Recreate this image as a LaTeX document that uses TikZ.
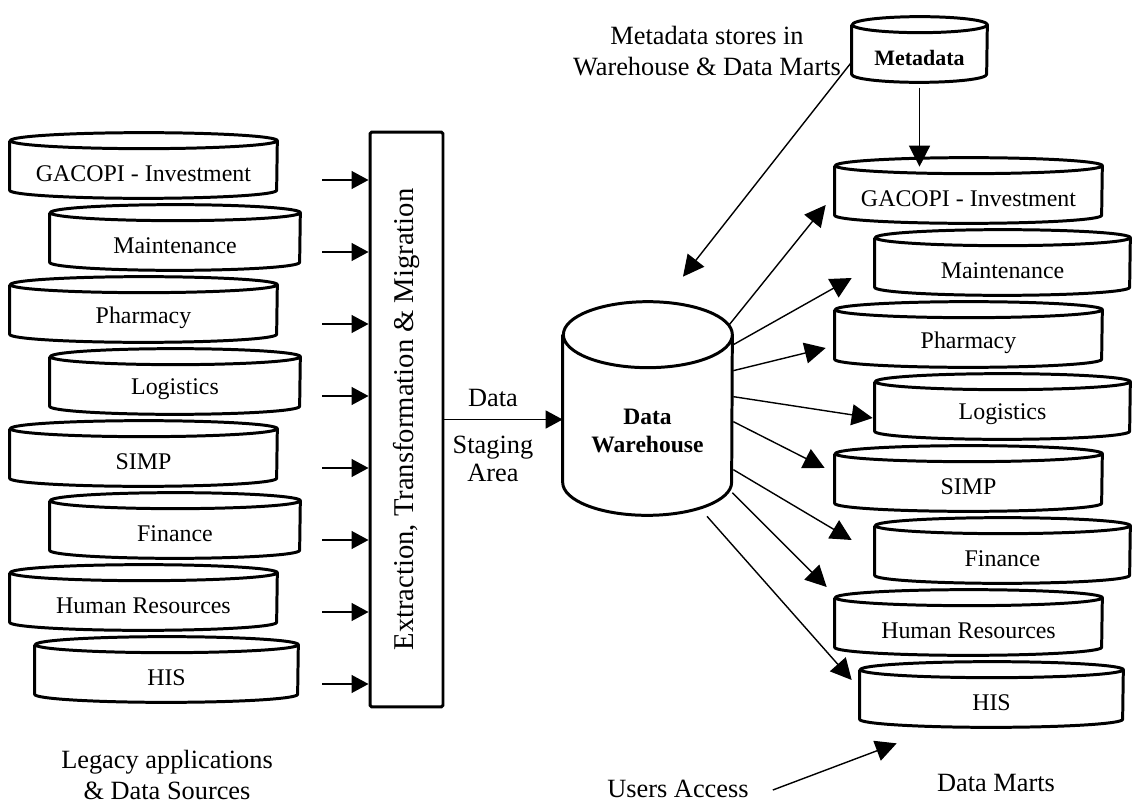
\documentclass[tikz,border=0pt]{standalone}
\usepackage{fontspec}
\setmainfont{Liberation Serif}
\usetikzlibrary{arrows.meta}

\tikzset{
  disk/.style={draw=none,inner sep=0pt,minimum height=0.98cm,font=\fontsize{13.6}{16}\selectfont},
  diskline/.style={line width=1.7pt,line join=round},
  feed/.style={line width=0.8pt,-{Triangle[length=0.34cm,width=0.36cm]}},
  flow/.style={line width=0.8pt,-{Triangle[length=0.42cm,width=0.42cm]}},
  caption/.style={align=center,font=\fontsize{15}{17.5}\selectfont}
}

% name, x, y, width (cm), label
\newcommand{\dbdisk}[5]{%
  \node[disk,minimum width=#4cm] (#1) at (#2,#3) {#5};
  \draw[diskline] ([yshift=0.16cm]#1.north west) -- ([yshift=0.16cm]#1.south west)
    arc[start angle=180,end angle=360,x radius=#4*0.5cm,y radius=0.16cm]
    -- ([yshift=0.16cm]#1.north east)
    arc[start angle=0,end angle=360,x radius=#4*0.5cm,y radius=0.16cm];
}

\begin{document}
\begin{tikzpicture}[x=0.02cm,y=0.02cm]
\useasboundingbox (0,0) rectangle (1132,-804);
% sources
\dbdisk{gacopi}{143.5}{-173.5}{5.34}{GACOPI - Investment}
\dbdisk{maint}{175}{-245.5}{5.0}{Maintenance}
\dbdisk{pharm}{143.5}{-317.5}{5.34}{Pharmacy}
\dbdisk{logis}{175}{-389.5}{5.0}{Logistics}
\dbdisk{simp}{143.5}{-461.5}{5.34}{SIMP}
\dbdisk{fin}{175}{-533.5}{5.0}{Finance}
\dbdisk{hr}{143.5}{-605.5}{5.34}{Human Resources}
\dbdisk{his}{166.5}{-677.5}{5.26}{HIS}
\node[caption] (legacy) at (167,-775) {Legacy applications\\\& Data Sources};
% staging
\node[draw,line width=1.7pt,rounded corners=1pt,inner sep=0pt,minimum width=1.46cm,minimum height=11.5cm] (etm) at (406.5,-419.5)
  {\rotatebox{90}{\fontsize{16.3}{18}\selectfont Extraction,\ Transformation \& Migration}};
\foreach \i in {0,...,7} {
  \coordinate (src\i) at (322,{-180-72*\i});
  \draw[feed] (src\i) -- (src\i -| etm.west);
}
% warehouse
\node[disk,align=center,minimum width=3.38cm,minimum height=2.52cm,font=\fontsize{13.4}{15.9}\selectfont\bfseries] (dw) at (647.5,-431) {Data\\Warehouse};
\draw[diskline] ([yshift=0.66cm]dw.north west) -- ([yshift=0.24cm]dw.south west)
  arc[start angle=180,end angle=360,x radius=1.69cm,y radius=0.66cm]
  -- ([yshift=0.66cm]dw.north east)
  arc[start angle=0,end angle=360,x radius=1.69cm,y radius=0.66cm];
\draw[feed] (etm.east) -- (etm.east -| dw.west);
\node[caption] (dataLbl) at (493,-398) {Data};
\node[caption,font=\fontsize{15}{15.9}\selectfont] (stagingLbl) at (493,-459) {Staging\\Area};
% metadata
\dbdisk{meta}{919.5}{-57.5}{2.7}{\fontsize{12.5}{14}\selectfont\bfseries Metadata}
\node[caption] (metaNote) at (707,-51) {Metadata stores in\\Warehouse \& Data Marts};
% data marts
\dbdisk{mGacopi}{968.5}{-198.5}{5.34}{GACOPI - Investment}
\dbdisk{mMaint}{1002.5}{-270.5}{5.1}{Maintenance}
\dbdisk{mPharm}{968.5}{-342.5}{5.34}{Pharmacy}
\dbdisk{mLogis}{1002.5}{-414.5}{5.1}{Logistics}
\dbdisk{mSimp}{968.5}{-486.5}{5.34}{SIMP}
\dbdisk{mFin}{1002.5}{-558.5}{5.1}{Finance}
\dbdisk{mHr}{968.5}{-630.5}{5.34}{Human Resources}
\dbdisk{mHis}{991.5}{-702.5}{5.26}{HIS}
\node[caption] (marts) at (996,-783) {Data Marts};
% lines
\draw[flow] ([yshift=-3]meta.south) -- ([yshift=-48]meta.south);
\draw[flow] ([shift={(0,-4.5)}]meta.west) -- ([shift={(35.5,91)}]dw.north);
\draw[flow] ([shift={(-3,43)}]dw.north east) -- ([shift={(-9,-6.5)}]mGacopi.west);
\draw[flow] ([shift={(1,23)}]dw.north east) -- ([shift={(-23,-7.5)}]mMaint.west);
\draw[flow] ([shift={(1,-3)}]dw.north east) -- ([shift={(-9,-5.5)}]mPharm.west);
\draw[flow] ([shift={(1,-29)}]dw.north east) -- ([shift={(-2,-3.5)}]mLogis.west);
\draw[flow] ([shift={(1,-54)}]dw.north east) -- ([shift={(-10,18.5)}]mSimp.west);
\draw[flow] ([shift={(1,-102)}]dw.north east) -- ([shift={(-23,18.5)}]mFin.west);
\draw[flow] ([shift={(0,-125)}]dw.north east) -- ([shift={(-8,43.5)}]mHr.west);
\draw[flow] ([shift={(59.5,-22)}]dw.south) -- ([shift={(-8,22.5)}]mHis.west);
\node[caption] (users) at (678,-789) {Users Access};
\draw[flow] ([shift={(18,-1)}]users.east) -- ([shift={(37,-16)}]mHis.south west);
\end{tikzpicture}
\end{document}
